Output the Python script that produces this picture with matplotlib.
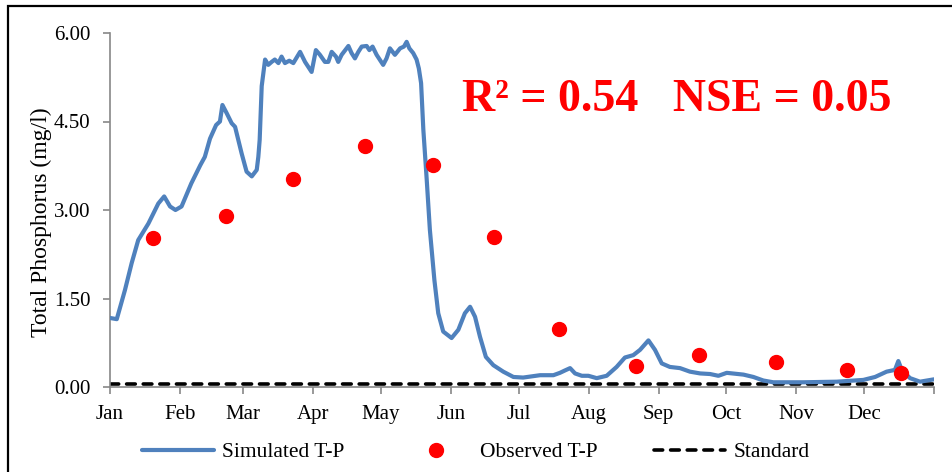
import matplotlib.pyplot as plt
from matplotlib.patches import Rectangle

# simulated T-P (day of year, mg/l)
sim_day = [0, 3, 6.6, 9.6, 12.5, 17, 21.4, 24, 26.6, 29, 31.7, 36, 40, 42, 44.3, 47, 48.7,
           49.8, 51.7, 53.9, 55.4, 58.3, 60.5, 62.8, 65, 65.7, 66.3, 67.2, 68.7, 70.1, 71.6,
           73, 74.6, 76, 77.5, 79.4, 81.2, 84.2, 86.4, 89.3, 91.2, 93, 95.2, 96.7, 98.2,
           100.1, 101.1, 102.6, 105.6, 107, 108.5, 110, 111.5, 113.7, 114.9, 116.3, 118.1,
           121, 122.5, 124, 126.2, 128.5, 130.2, 131.4, 132.6, 134.3, 135.8, 136.8, 137.8,
           138.8, 140.3, 141.7, 143.7, 145.4, 147.6, 151.3, 154.3, 157.2, 159.5, 161.7,
           163.9, 166.5, 169.8, 174.2, 178.7, 183, 190.5, 196.4, 199.3, 201.5, 203.8, 206,
           209, 211.9, 215.6, 220, 224.4, 228.1, 231.8, 234.8, 238.5, 241.4, 244.4, 248,
           252.5, 256.9, 261.4, 265.8, 269.5, 273.2, 280.6, 285, 289.4, 293.8, 307, 321.9,
           333.7, 338.9, 344, 347.7, 349.2, 350.7, 354.4, 358.8, 365]
sim_tp = [1.17, 1.15, 1.64, 2.10, 2.49, 2.77, 3.11, 3.23, 3.06, 3.00, 3.06, 3.45, 3.76, 3.90,
          4.21, 4.44, 4.50, 4.78, 4.64, 4.47, 4.41, 3.96, 3.65, 3.57, 3.68, 3.90, 4.19, 5.10,
          5.55, 5.46, 5.51, 5.55, 5.49, 5.60, 5.49, 5.53, 5.49, 5.68, 5.51, 5.34, 5.71, 5.63,
          5.51, 5.51, 5.68, 5.60, 5.51, 5.63, 5.78, 5.66, 5.57, 5.68, 5.77, 5.78, 5.71, 5.77,
          5.63, 5.46, 5.57, 5.74, 5.63, 5.74, 5.77, 5.85, 5.74, 5.66, 5.55, 5.40, 5.15, 4.36,
          3.51, 2.66, 1.81, 1.25, 0.94, 0.83, 0.97, 1.25, 1.36, 1.19, 0.85, 0.51, 0.37, 0.26,
          0.17, 0.16, 0.20, 0.20, 0.24, 0.28, 0.32, 0.23, 0.19, 0.19, 0.15, 0.19, 0.34, 0.50,
          0.54, 0.63, 0.79, 0.63, 0.40, 0.34, 0.32, 0.26, 0.23, 0.22, 0.19, 0.24, 0.21, 0.17,
          0.11, 0.08, 0.08, 0.09, 0.12, 0.17, 0.26, 0.29, 0.44, 0.29, 0.15, 0.09, 0.13]

obs_day = [19, 51.4, 81, 113, 143, 170, 199, 233, 261, 295, 326.5, 350.6]
obs_tp = [2.53, 2.90, 3.52, 4.08, 3.77, 2.54, 0.99, 0.36, 0.54, 0.43, 0.29, 0.24]

standard = 0.05
month_start = [0, 31, 59, 90, 120, 151, 181, 212, 243, 273, 304, 334, 365]
month_names = ['Jan', 'Feb', 'Mar', 'Apr', 'May', 'Jun', 'Jul', 'Aug', 'Sep', 'Oct', 'Nov', 'Dec', '']

plt.rcParams['font.family'] = ['Liberation Serif', 'DejaVu Serif']

fig = plt.figure(figsize=(9.53, 4.72), dpi=100)
ax = fig.add_axes([110/953, 1-387/472, (934-110)/953, (387-33)/472])

ax.plot([0, 365], [standard, standard], color='black', lw=2.6, ls=(0, (2.4, 2.2)),
        dash_capstyle='round', label='Standard', zorder=2)
ax.plot(sim_day, sim_tp, color='#4F81BD', lw=3, label='Simulated T-P', zorder=3,
        solid_capstyle='round')
ax.plot(obs_day, obs_tp, 'o', color='#FF0000', ms=10, label='Observed T-P', zorder=4)

ax.set_xlim(0, 365)
ax.set_ylim(0, 6)
ax.set_yticks([0, 1.5, 3, 4.5, 6])
ax.set_yticklabels(['0.00', '1.50', '3.00', '4.50', '6.00'])
ax.set_xticks(month_start)
ax.set_xticklabels(month_names)
ax.tick_params(axis='both', labelsize=15, color='#888888', length=5, width=1.2)
ax.tick_params(axis='x', pad=8)
ax.tick_params(axis='y', pad=9)
for s in ['top', 'right']:
    ax.spines[s].set_visible(False)
for s in ['left', 'bottom']:
    ax.spines[s].set_color('#888888')
    ax.spines[s].set_linewidth(1.2)

ax.set_ylabel('Total Phosphorus (mg/l)', fontsize=17)
ax.yaxis.set_label_coords((52-110)/824, (387-222)/354)

fig.text(677/953, 1-100/472, 'R² = 0.54   NSE = 0.05', color='#FF0000',
         fontsize=33, fontweight='bold', ha='center', va='center')

h, l = ax.get_legend_handles_labels()
order = [1, 2, 0]
fig.legend([h[i] for i in order], [l[i] for i in order], loc='center',
           bbox_to_anchor=(476/953, 1-452/472), ncol=3, frameon=False, fontsize=15.5,
           columnspacing=2.6, handlelength=3.3, handletextpad=0.4)

fig.patches.append(Rectangle((8/953, -0.1), 1.0, 1-6/472+0.1, transform=fig.transFigure,
                             fill=False, edgecolor='black', lw=1.6))

fig.savefig('out.png', dpi=100)
